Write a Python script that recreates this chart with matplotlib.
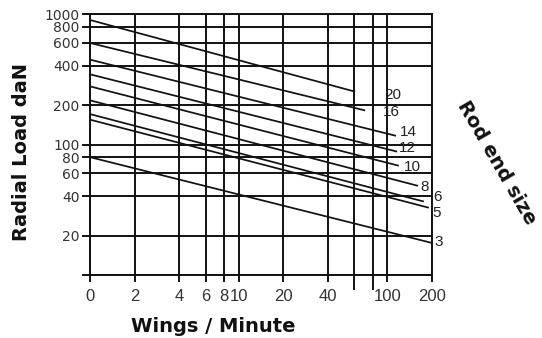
import matplotlib.pyplot as plt
from matplotlib.ticker import NullLocator

# axis ticks (x axis is logarithmic, the "0" label sits at 1)
x_ticks = [1, 2, 4, 6, 8, 10, 20, 40, 60, 80, 100, 200]
x_tick_labels = ['0', '2', '4', '6', '8', '10', '20', '40', '', '', '100', '200']
y_ticks = [10, 20, 40, 60, 80, 100, 200, 400, 600, 800, 1000]
y_tick_labels = ['', '20', '40', '60', '80', '100', '200', '400', '600', '800', '1000']

# rod end sizes: each curve runs from 0 (=1) wings/min to its end point
sizes = ['20', '16', '14', '12', '10', '8', '6', '5', '3']
x_start = [1, 1, 1, 1, 1, 1, 1, 1, 1]
x_end = [60, 70, 113, 115, 118, 159, 174, 188, 200]
load_start = [900, 600, 447, 345, 279, 218, 171, 155, 80]
load_end = [255, 183, 117, 88.5, 69, 48.4, 36.7, 32.9, 17.6]

# label offsets from line end, in pixels (right, down)
label_offset = {'20': (38, 4), '16': (27, 2), '14': (13, -4), '12': (11, -3),
                '10': (14, 1), '8': (7, 1), '6': (14, -4), '5': (9, 5), '3': (7, -1)}

W, H = 542, 338
fig = plt.figure(figsize=(W / 100, H / 100), dpi=100)
ax = fig.add_axes([90 / W, 1 - 275 / H, (432 - 90) / W, (275 - 14) / H])

ax.set_xscale('log')
ax.set_yscale('log')
ax.set_xlim(1, 200)
ax.set_ylim(10, 1000)

grid_col = '#111111'
ax.set_xticks(x_ticks)
ax.set_xticklabels(x_tick_labels, family='Liberation Sans', fontsize=12, color='#333333')
ax.set_yticks(y_ticks)
ax.set_yticklabels(y_tick_labels, family='DejaVu Sans', fontsize=10, color='#333333')
ax.xaxis.set_minor_locator(NullLocator())
ax.yaxis.set_minor_locator(NullLocator())
ax.tick_params(axis='x', length=5, width=1.4, color=grid_col, pad=5)
ax.tick_params(axis='y', length=6, width=1.4, color=grid_col, pad=1.5)
for t, v in zip(ax.xaxis.get_major_ticks(), x_ticks):
    if v in (60, 80):
        t.tick1line.set_markersize(11)
ax.grid(True, color=grid_col, linewidth=1.4)
for s in ax.spines.values():
    s.set_color(grid_col)
    s.set_linewidth(1.4)

for name, x0, x1, y0, y1 in zip(sizes, x_start, x_end, load_start, load_end):
    ax.plot([x0, x1], [y0, y1], color='#111111', linewidth=1.25, zorder=3)
    dx, dy = label_offset[name]
    ax.annotate(name, xy=(x1, y1), xytext=(dx, -dy), textcoords='offset pixels',
                ha='center', va='center', family='Liberation Sans', fontsize=11,
                color='#222222', annotation_clip=False)

fig.text(22 / W, 1 - 152 / H, 'Radial Load daN', rotation=90, ha='center', va='center',
         fontsize=14, fontweight='bold', color='#111111')
fig.text(213 / W, 1 - 326 / H, 'Wings / Minute', ha='center', va='center',
         fontsize=14, fontweight='bold', color='#111111')
fig.text(497 / W, 1 - 163 / H, 'Rod end size', rotation=-60, ha='center', va='center',
         rotation_mode='anchor', fontsize=14, fontweight='bold', color='#111111')

fig.savefig('out.png', dpi=100)
